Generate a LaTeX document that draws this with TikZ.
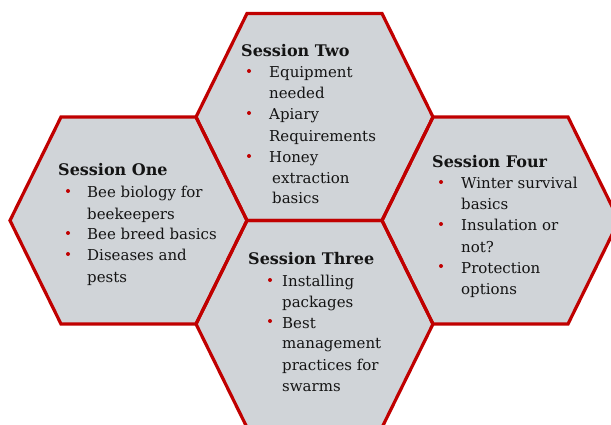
\documentclass[tikz,border=0pt]{standalone}
\usepackage{fontspec}
\setmainfont{DejaVu Serif}
\definecolor{hexred}{RGB}{192,0,0}
\definecolor{hexfill}{RGB}{208,212,216}
\definecolor{ink}{RGB}{20,20,20}
\newcommand\hexat[2]{(#1-118.5,#2) -- (#1-67.5,#2-103.5) -- (#1+67.5,#2-103.5) -- (#1+118.5,#2) -- (#1+67.5,#2+103.5) -- (#1-67.5,#2+103.5) -- cycle}
\begin{document}
\begin{tikzpicture}[x=1pt,y=-1pt,
  hexbody/.style={fill=hexfill},
  hexline/.style={draw=hexred, line width=3.2pt, line join=miter},
  txt/.style={anchor=base west, inner sep=0pt, font=\fontsize{15}{21}\selectfont, text=ink},
  head/.style={anchor=base west, inner sep=0pt, font=\fontsize{16}{21}\selectfont\bfseries, text=ink},
  dot/.style={circle, fill=hexred, inner sep=0pt, minimum size=4pt}]
\useasboundingbox (0,0) rectangle (611,425);
\clip (0,0) rectangle (611,425);
\foreach \cx/\cy in {128.5/220.5, 314.5/117, 314.5/324, 500.5/220.5}
  \path[hexbody] \hexat{\cx}{\cy};
\foreach \cx/\cy in {128.5/220.5, 314.5/117, 314.5/324, 500.5/220.5}
  \path[hexline] \hexat{\cx}{\cy};
% Session One
\node[head] (s1h) at (58,176) {Session One};
\node[dot] (s1d1) at (68,191) {};
\node[txt] (s1l1) at (87,198) {Bee biology for};
\node[txt] (s1l2) at (87,219) {beekeepers};
\node[dot] (s1d2) at (68,233) {};
\node[txt] (s1l3) at (87,240) {Bee breed basics};
\node[dot] (s1d3) at (68,254) {};
\node[txt] (s1l4) at (87,261) {Diseases and};
\node[txt] (s1l5) at (87,282) {pests};
% Session Two
\node[head] (s2h) at (241,57) {Session Two};
\node[dot] (s2d1) at (249,71) {};
\node[txt] (s2l1) at (269,78) {Equipment};
\node[txt] (s2l2) at (269,99) {needed};
\node[dot] (s2d2) at (249,113) {};
\node[txt] (s2l3) at (269,120) {Apiary};
\node[txt] (s2l4) at (269,142) {Requirements};
\node[dot] (s2d3) at (249,156) {};
\node[txt] (s2l5) at (269,163) {Honey};
\node[txt] (s2l6) at (272,184) {extraction};
\node[txt] (s2l7) at (272,204) {basics};
% Session Three
\node[head] (s3h) at (248,265) {Session Three};
\node[dot] (s3d1) at (270,280) {};
\node[txt] (s3l1) at (282,287) {Installing};
\node[txt] (s3l2) at (282,307) {packages};
\node[dot] (s3d2) at (270,321) {};
\node[txt] (s3l3) at (282,328) {Best};
\node[txt] (s3l4) at (282,348) {management};
\node[txt] (s3l5) at (282,370) {practices for};
\node[txt] (s3l6) at (282,391) {swarms};
% Session Four
\node[head] (s4h) at (432,168) {Session Four};
\node[dot] (s4d1) at (441,182) {};
\node[txt] (s4l1) at (461,189) {Winter survival};
\node[txt] (s4l2) at (461,210) {basics};
\node[dot] (s4d2) at (441,224) {};
\node[txt] (s4l3) at (461,231) {Insulation or};
\node[txt] (s4l4) at (461,252) {not?};
\node[dot] (s4d3) at (441,266) {};
\node[txt] (s4l5) at (461,273) {Protection};
\node[txt] (s4l6) at (461,294) {options};
\end{tikzpicture}
\end{document}
